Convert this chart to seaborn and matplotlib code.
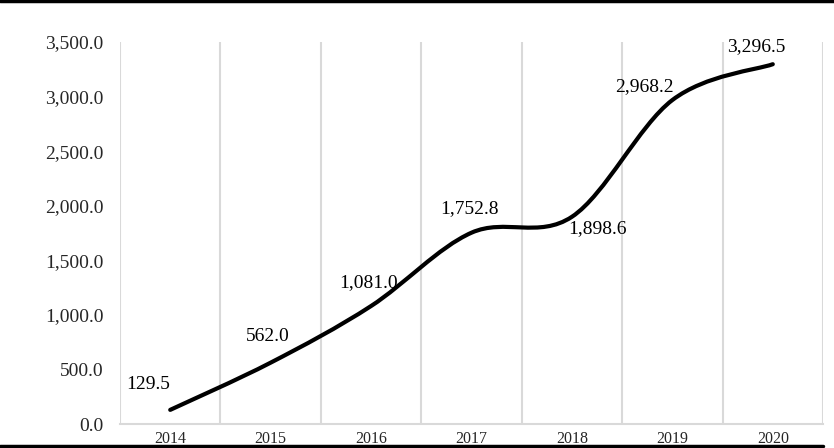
import numpy as np
import pandas as pd
import seaborn as sns
import matplotlib
matplotlib.use("Agg")
import matplotlib.pyplot as plt
from matplotlib.path import Path
from matplotlib.patches import PathPatch
from matplotlib.lines import Line2D

years = ["2014", "2015", "2016", "2017", "2018", "2019", "2020"]
values = [129.5, 562.0, 1081.0, 1752.8, 1898.6, 2968.2, 3296.5]
value_labels = ["129.5", "562.0", "1,081.0", "1,752.8", "1,898.6", "2,968.2", "3,296.5"]
y_ticks = [0, 500, 1000, 1500, 2000, 2500, 3000, 3500]

# label offsets in pixels (dx, dy) relative to each point
label_offsets = [(-22, 25), (-3, 26), (-3, 23), (-2, 24), (26, -12), (-28, 13), (-17, 18)]

sns.set_style("white")
plt.rcParams["font.family"] = ["Liberation Serif", "DejaVu Serif"]

fig = plt.figure(figsize=(8.34, 4.48), dpi=100)
ax = fig.add_axes([120 / 834, (448 - 424) / 448, (823 - 120) / 834, (424 - 42) / 448])

df = pd.DataFrame({"x": np.arange(len(years)), "year": years, "value": values})
sns.lineplot(data=df, x="x", y="value", ax=ax, linewidth=0, color="black")

# Smoothed line (Excel-like Catmull-Rom Bezier through data points)
xs = df["x"].to_numpy(dtype=float)
ys = df["value"].to_numpy(dtype=float)
n = len(xs)
verts = [(xs[0], ys[0])]
codes = [Path.MOVETO]
for i in range(n - 1):
    p0 = np.array([xs[max(i - 1, 0)], ys[max(i - 1, 0)]])
    p1 = np.array([xs[i], ys[i]])
    p2 = np.array([xs[i + 1], ys[i + 1]])
    p3 = np.array([xs[min(i + 2, n - 1)], ys[min(i + 2, n - 1)]])
    c1 = p1 + (p2 - p0) / 6.0
    c2 = p2 - (p3 - p1) / 6.0
    verts += [tuple(c1), tuple(c2), tuple(p2)]
    codes += [Path.CURVE4, Path.CURVE4, Path.CURVE4]
patch = PathPatch(Path(verts, codes), facecolor="none", edgecolor="black",
                  linewidth=3.0, capstyle="round", joinstyle="round", zorder=3)
ax.add_patch(patch)

for i, (lab, off) in enumerate(zip(value_labels, label_offsets)):
    ax.annotate(lab, (xs[i], ys[i]), xytext=off, textcoords="offset pixels",
                ha="center", va="center", fontsize=14, color="black", zorder=4)

ax.set_xlim(-0.5, len(years) - 0.5)
ax.set_ylim(0, 3500)
ax.set_yticks(y_ticks)
ax.set_yticklabels([f"{v:,.1f}" for v in y_ticks], fontsize=14)
ax.set_xticks(xs)
ax.set_xticklabels(years, fontsize=11.5)
ax.set_xticks(np.arange(-0.5, len(years), 1.0), minor=True)
ax.grid(False)
ax.grid(True, which="minor", axis="x", color="#d9d9d9", linewidth=1.5)
ax.tick_params(axis="both", which="both", length=0)
ax.tick_params(axis="y", pad=12)
ax.tick_params(axis="x", pad=5)
ax.set_xlabel("")
ax.set_ylabel("")
for s in ["top", "right", "left"]:
    ax.spines[s].set_visible(False)
ax.spines["bottom"].set_color("#d9d9d9")
ax.spines["bottom"].set_linewidth(1.5)

# black rules at top and bottom of the figure
fig.add_artist(Line2D([0, 1], [1 - 1.5 / 448, 1 - 1.5 / 448], color="black", linewidth=2.5))
fig.add_artist(Line2D([0, 823 / 834], [2 / 448, 2 / 448], color="black", linewidth=2.5))

fig.savefig("out.png", dpi=100)
